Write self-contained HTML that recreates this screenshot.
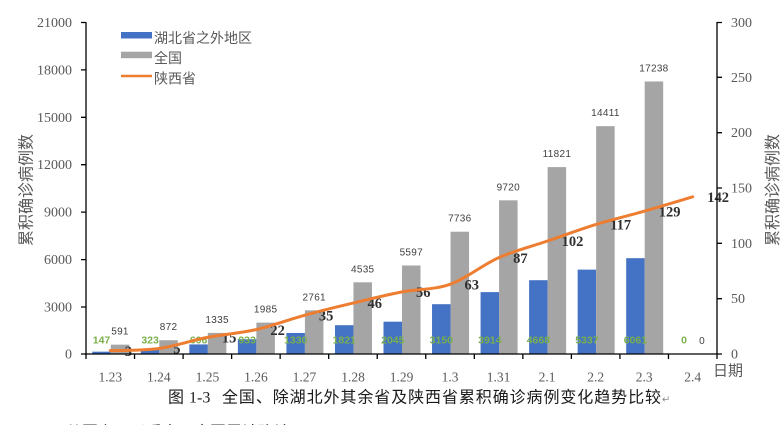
<!DOCTYPE html>
<html><head><meta charset="utf-8"><style>
html,body{margin:0;padding:0;background:#fff;}
body{width:782px;height:425px;overflow:hidden;}
svg{display:block;}
.ax{font-family:"Liberation Serif",serif;font-size:14px;fill:#595959;}
.cat{font-family:"Liberation Serif",serif;font-size:13.5px;fill:#595959;}
.gl{font-family:"Liberation Sans",sans-serif;font-size:10px;fill:#404040;letter-spacing:0.3px;}
.bl{font-family:"Liberation Sans",sans-serif;font-size:10.5px;font-weight:bold;fill:#7AB04B;}
.sl{font-family:"Liberation Serif",serif;font-size:14.5px;font-weight:bold;fill:#303030;}
.cjk{font-family:"Liberation Sans","Noto Sans CJK SC",sans-serif;fill:#595959;}
</style></head><body>
<svg width="782" height="425" viewBox="0 0 782 425" xmlns="http://www.w3.org/2000/svg">
<rect width="782" height="425" fill="#fff"/>
<!-- blue bars -->
<g fill="#4472C4">
<rect x="92.27" y="351.68" width="18.5" height="2.32"/>
<rect x="140.81" y="348.89" width="18.5" height="5.11"/>
<rect x="189.35" y="344.42" width="18.5" height="9.58"/>
<rect x="237.88" y="339.25" width="18.5" height="14.75"/>
<rect x="286.42" y="332.97" width="18.5" height="21.03"/>
<rect x="334.96" y="325.21" width="18.5" height="28.79"/>
<rect x="383.50" y="321.67" width="18.5" height="32.33"/>
<rect x="432.04" y="304.20" width="18.5" height="49.80"/>
<rect x="480.58" y="292.12" width="18.5" height="61.88"/>
<rect x="529.12" y="280.20" width="18.5" height="73.80"/>
<rect x="577.65" y="269.63" width="18.5" height="84.37"/>
<rect x="626.19" y="258.18" width="18.5" height="95.82"/>
</g>
<!-- gray bars -->
<g fill="#A5A5A5">
<rect x="110.77" y="344.66" width="18.5" height="9.34"/>
<rect x="159.31" y="340.21" width="18.5" height="13.79"/>
<rect x="207.85" y="332.89" width="18.5" height="21.11"/>
<rect x="256.38" y="322.62" width="18.5" height="31.38"/>
<rect x="304.92" y="310.35" width="18.5" height="43.65"/>
<rect x="353.46" y="282.30" width="18.5" height="71.70"/>
<rect x="402.00" y="265.51" width="18.5" height="88.49"/>
<rect x="450.54" y="231.70" width="18.5" height="122.30"/>
<rect x="499.08" y="200.33" width="18.5" height="153.67"/>
<rect x="547.62" y="167.11" width="18.5" height="186.89"/>
<rect x="596.15" y="126.17" width="18.5" height="227.83"/>
<rect x="644.69" y="81.48" width="18.5" height="272.52"/>
</g>
<!-- gray labels -->
<g class="gl" text-anchor="middle">
<text x="120.0" y="334.7">591</text>
<text x="168.6" y="330.2">872</text>
<text x="217.1" y="322.9">1335</text>
<text x="265.6" y="312.6">1985</text>
<text x="314.2" y="300.4">2761</text>
<text x="362.7" y="272.3">4535</text>
<text x="411.3" y="255.5">5597</text>
<text x="459.8" y="221.7">7736</text>
<text x="508.3" y="190.3">9720</text>
<text x="556.9" y="157.1">11821</text>
<text x="605.4" y="116.2">14411</text>
<text x="653.9" y="71.5">17238</text>
<text x="702.0" y="344.0">0</text>
</g>
<!-- blue labels -->
<g class="bl" text-anchor="middle">
<text x="101.5" y="343.5">147</text>
<text x="150.1" y="343.5">323</text>
<text x="198.6" y="343.5">606</text>
<text x="247.1" y="343.5">933</text>
<text x="295.7" y="343.5">1330</text>
<text x="344.2" y="343.5">1821</text>
<text x="392.8" y="343.5">2045</text>
<text x="441.3" y="343.5">3150</text>
<text x="489.8" y="343.5">3914</text>
<text x="538.4" y="343.5">4668</text>
<text x="586.9" y="343.5">5337</text>
<text x="635.4" y="343.5">6061</text>
<text x="684.0" y="343.5">0</text>
</g>
<!-- Shaanxi labels -->
<g class="sl">
<text x="124.8" y="355.8">3</text>
<text x="173.3" y="353.6">5</text>
<text x="221.9" y="342.5">15</text>
<text x="270.4" y="334.8">22</text>
<text x="318.9" y="320.4">35</text>
<text x="367.5" y="308.2">46</text>
<text x="416.0" y="297.2">56</text>
<text x="464.5" y="289.4">63</text>
<text x="513.1" y="262.8">87</text>
<text x="561.6" y="246.2">102</text>
<text x="610.2" y="229.6">117</text>
<text x="658.7" y="216.4">129</text>
<text x="707.2" y="202.0">142</text>
</g>
<!-- line -->
<path d="M110.27,350.68 C118.36,350.31 142.63,350.68 158.81,348.47 C174.99,346.26 191.17,340.54 207.35,337.40 C223.53,334.26 239.70,333.34 255.88,329.65 C272.06,325.96 288.24,319.70 304.42,315.27 C320.60,310.84 336.78,306.96 352.96,303.09 C369.14,299.22 385.32,295.17 401.50,292.03 C417.68,288.90 433.86,290.00 450.04,284.28 C466.22,278.56 482.40,264.91 498.58,257.72 C514.76,250.53 530.94,246.65 547.12,241.12 C563.30,235.59 579.47,229.50 595.65,224.52 C611.83,219.54 628.01,215.85 644.19,211.24 C660.37,206.63 684.64,199.25 692.73,196.85" fill="none" stroke="#ED7D31" stroke-width="3" stroke-linecap="round" stroke-linejoin="round"/>
<!-- axes -->
<g stroke="#000" stroke-width="1.3" fill="none">
<line x1="86" y1="22" x2="86" y2="354"/>
<line x1="717" y1="22" x2="717" y2="354"/>
<line x1="81" y1="354" x2="722" y2="354"/>
<path d="M81,22.5H86M81,69.9H86M81,117.3H86M81,164.7H86M81,212.1H86M81,259.6H86M81,307H86"/>
<path d="M717,22.5H722M717,77.3H722M717,132.7H722M717,188H722M717,243.3H722M717,298.7H722"/>
<path d="M86,354V359M134.54,354V359M183.08,354V359M231.62,354V359M280.15,354V359M328.69,354V359M377.23,354V359M425.77,354V359M474.31,354V359M522.85,354V359M571.38,354V359M619.92,354V359M668.46,354V359M717,354V359"/>
</g>
<!-- left axis labels -->
<g class="ax" text-anchor="end">
<text x="72" y="27">21000</text>
<text x="72" y="74.4">18000</text>
<text x="72" y="121.8">15000</text>
<text x="72" y="169.2">12000</text>
<text x="72" y="216.6">9000</text>
<text x="72" y="264.1">6000</text>
<text x="72" y="311.5">3000</text>
<text x="72" y="358.5">0</text>
</g>
<g class="ax" text-anchor="start">
<text x="731" y="27">300</text>
<text x="731" y="81.8">250</text>
<text x="731" y="137.2">200</text>
<text x="731" y="192.5">150</text>
<text x="731" y="247.8">100</text>
<text x="731" y="303.2">50</text>
<text x="731" y="358.5">0</text>
</g>
<!-- category labels -->
<g class="cat" text-anchor="middle">
<text x="110.3" y="381.5">1.23</text>
<text x="158.8" y="381.5">1.24</text>
<text x="207.4" y="381.5">1.25</text>
<text x="255.9" y="381.5">1.26</text>
<text x="304.4" y="381.5">1.27</text>
<text x="353.0" y="381.5">1.28</text>
<text x="401.5" y="381.5">1.29</text>
<text x="450.0" y="381.5">1.3</text>
<text x="498.6" y="381.5">1.31</text>
<text x="547.1" y="381.5">2.1</text>
<text x="595.7" y="381.5">2.2</text>
<text x="644.2" y="381.5">2.3</text>
<text x="692.7" y="381.5">2.4</text>
</g>
<text class="cjk" x="713" y="375.5" font-size="15">日期</text>
<!-- axis titles -->
<text class="cjk" font-size="16" text-anchor="middle" transform="translate(31.5,190) rotate(-90)">累积确诊病例数</text>
<text class="cjk" font-size="16" text-anchor="middle" transform="translate(778,190) rotate(-90)">累积确诊病例数</text>
<!-- legend -->
<rect x="121" y="32" width="31" height="6.5" fill="#4472C4"/>
<text class="cjk" x="154" y="42.8" font-size="14">湖北省之外地区</text>
<rect x="121" y="51.7" width="31" height="6.5" fill="#A5A5A5"/>
<text class="cjk" x="154" y="63.2" font-size="14">全国</text>
<line x1="121" y1="76" x2="152" y2="76" stroke="#ED7D31" stroke-width="2.5"/>
<text class="cjk" x="154" y="83.6" font-size="14">陕西省</text>
<!-- caption -->
<text x="168" y="402.5" font-size="16" font-family="'Liberation Sans','Noto Sans CJK SC',sans-serif" fill="#1a1a1a">图</text>
<text x="189" y="402.5" font-size="16" font-family="'Liberation Serif',serif" fill="#1a1a1a">1-3</text>
<text x="222" y="402.5" font-size="16" textLength="439" lengthAdjust="spacing" font-family="'Liberation Sans','Noto Sans CJK SC',sans-serif" fill="#1a1a1a">全国、除湖北外其余省及陕西省累积确诊病例变化趋势比较</text>
<text x="662" y="402.5" font-size="10" font-family="'DejaVu Sans',sans-serif" fill="#888">↵</text>
<!-- cut-off next line -->
<text x="66" y="437.5" font-size="16" font-family="'Liberation Sans','Noto Sans CJK SC',sans-serif" fill="#333">从图上可以看出，全国累计确诊</text>
</svg>
</body></html>
